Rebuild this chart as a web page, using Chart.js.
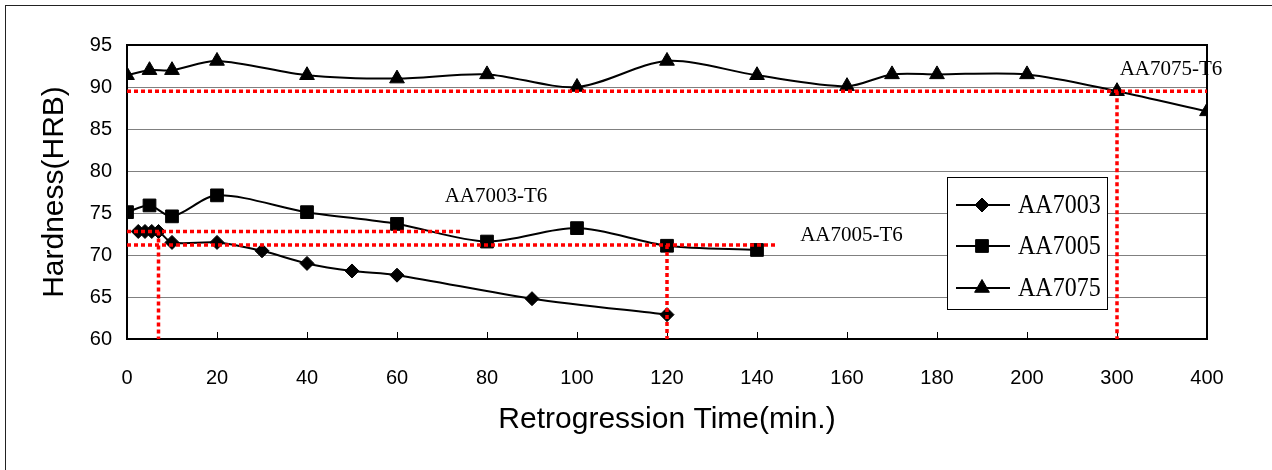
<!DOCTYPE html>
<html lang="en">
<head>
<meta charset="UTF-8">
<title>Hardness vs Retrogression Time</title>
<script src="https://cdn.jsdelivr.net/npm/chart.js"></script>
<style>
  body { margin: 0; background: #fff; }
</style>
</head>
<body>
<canvas id="hardnessChart" width="1272" height="470"></canvas>
<script>
  // category-like time axis: 0..200 every 20 min, then 300 and 400 at the same spacing
  const xTickLabels = [0, 20, 40, 60, 80, 100, 120, 140, 160, 180, 200, 300, 400];

  const aa7003Time = [2.5, 4, 5.5, 7, 10, 20, 30, 40, 50, 60, 90, 120];
  const aa7003Hrb  = [72.8, 72.8, 72.8, 72.8, 71.5, 71.5, 70.5, 69.0, 68.1, 67.6, 64.8, 62.9];

  const aa7005Time = [0, 5, 10, 20, 40, 60, 80, 100, 120, 140];
  const aa7005Hrb  = [75.1, 75.9, 74.6, 77.1, 75.1, 73.7, 71.6, 73.2, 71.1, 70.6];

  const aa7075Time = [0, 5, 10, 20, 40, 60, 80, 100, 120, 140, 160, 170, 180, 200, 300, 400];
  const aa7075Hrb  = [91.4, 92.0, 92.0, 93.1, 91.4, 91.0, 91.5, 90.0, 93.1, 91.4, 90.1, 91.5, 91.5, 91.5, 89.5, 87.1];

  // T6 reference levels (red dotted guides) and their labels
  const t6Names     = ['AA7003-T6', 'AA7005-T6', 'AA7075-T6'];
  const t6Level     = [72.8, 71.2, 89.5];
  const t6Time      = [7, 120, 300];
  const t6End       = [74, 144, 400];
  const t6LabelTime = [82, 161, 360];
  const t6LabelHrb  = [77.0, 72.3, 92.1];

  const yMin = 60, yMax = 95;

  function timePos(m) {
    return m <= 200 ? m / 20 : 10 + (m - 200) / 100;
  }

  function series(label, times, vals, style, radius) {
    return {
      label: label,
      data: times.map((t, i) => ({ x: timePos(t), y: vals[i] })),
      borderColor: '#000',
      backgroundColor: '#000',
      borderWidth: 2,
      pointStyle: style,
      pointRadius: radius,
      pointHoverRadius: radius,
      pointBorderWidth: 1,
      tension: 0.3,
      order: 1
    };
  }

  function guide(points) {
    return {
      label: '',
      guide: true,
      data: points,
      borderColor: '#ff0000',
      borderWidth: 3.5,
      borderDash: [4, 3],
      pointRadius: 0,
      tension: 0,
      order: 0
    };
  }

  const datasets = [
    series('AA7003', aa7003Time, aa7003Hrb, 'rectRot', 7),
    series('AA7005', aa7005Time, aa7005Hrb, 'rect', 9),
    series('AA7075', aa7075Time, aa7075Hrb, 'triangle', 8.5)
  ];
  t6Level.forEach((lvl, i) => {
    datasets.push(guide([{ x: 0, y: lvl }, { x: timePos(t6End[i]), y: lvl }]));
    datasets.push(guide([{ x: timePos(t6Time[i]), y: lvl }, { x: timePos(t6Time[i]), y: yMin }]));
  });

  const sans = 'Liberation Sans, Arial, sans-serif';
  const serif = 'Liberation Serif, Times New Roman, serif';

  const decor = {
    id: 'decor',
    beforeDraw(chart) {
      const ctx = chart.ctx;
      ctx.save();
      ctx.fillStyle = '#fff';
      ctx.fillRect(0, 0, chart.width, chart.height);
      ctx.restore();
    },
    beforeDatasetsDraw(chart) {
      const ctx = chart.ctx, a = chart.chartArea, xs = chart.scales.x;
      ctx.save();
      ctx.strokeStyle = '#000';
      // small inside tick marks on the time axis
      ctx.lineWidth = 1;
      for (let i = 1; i < xTickLabels.length - 1; i++) {
        const px = Math.round(xs.getPixelForValue(i)) + 0.5;
        ctx.beginPath();
        ctx.moveTo(px, a.bottom);
        ctx.lineTo(px, a.bottom - 7);
        ctx.stroke();
      }
      ctx.lineWidth = 2;
      ctx.strokeRect(a.left, a.top, a.right - a.left, a.bottom - a.top);
      ctx.restore();
    },
    afterDraw(chart) {
      const ctx = chart.ctx, xs = chart.scales.x, ys = chart.scales.y;
      ctx.save();

      // outer frame
      ctx.strokeStyle = '#222';
      ctx.lineWidth = 1;
      ctx.strokeRect(5.5, 5.5, chart.width + 20, chart.height + 20);

      // T6 labels
      ctx.fillStyle = '#000';
      ctx.font = '21px ' + serif;
      ctx.textAlign = 'center';
      ctx.textBaseline = 'middle';
      t6Names.forEach((name, i) => {
        ctx.fillText(name, xs.getPixelForValue(timePos(t6LabelTime[i])), ys.getPixelForValue(t6LabelHrb[i]));
      });

      // legend box inside the plot
      const box = { left: 947, top: 177, width: 160, height: 132 };
      const rows = [28, 69, 111];
      ctx.fillStyle = '#fff';
      ctx.fillRect(box.left, box.top, box.width, box.height);
      ctx.strokeStyle = '#000';
      ctx.lineWidth = 1;
      ctx.strokeRect(box.left + 0.5, box.top + 0.5, box.width, box.height);
      chart.data.datasets.filter(d => !d.guide).forEach((d, i) => {
        const y = box.top + rows[i];
        ctx.strokeStyle = '#000';
        ctx.lineWidth = 2;
        ctx.beginPath();
        ctx.moveTo(box.left + 9, y);
        ctx.lineTo(box.left + 63, y);
        ctx.stroke();
        ctx.fillStyle = '#000';
        ctx.lineWidth = 1;
        Chart.helpers.drawPoint(ctx, {
          pointStyle: d.pointStyle, radius: d.pointRadius, borderWidth: 1, rotation: 0
        }, box.left + 35, y);
        ctx.save();
        ctx.translate(box.left + 71, y);
        ctx.scale(1, 1.13);
        ctx.font = '24px ' + serif;
        ctx.textAlign = 'left';
        ctx.textBaseline = 'middle';
        ctx.fillText(d.label, 0, 1);
        ctx.restore();
      });
      ctx.restore();
    }
  };

  const ctx = document.getElementById('hardnessChart').getContext('2d');
  new Chart(ctx, {
    type: 'line',
    data: { datasets: datasets },
    plugins: [decor],
    options: {
      responsive: false,
      animation: false,
      layout: { padding: { left: 0, right: 65, top: 45, bottom: 0 } },
      plugins: {
        legend: { display: false },
        tooltip: { enabled: false }
      },
      scales: {
        x: {
          type: 'linear',
          min: 0,
          max: xTickLabels.length - 1,
          afterFit: s => { s.height = 131; },
          grid: { display: false },
          border: { display: false },
          ticks: {
            stepSize: 1,
            autoSkip: false,
            maxRotation: 0,
            padding: 19,
            color: '#000',
            font: { family: sans, size: 20 },
            callback: v => xTickLabels[v]
          },
          title: {
            display: true,
            text: 'Retrogression Time(min.)',
            color: '#000',
            font: { family: sans, size: 30 },
            padding: { top: 0, bottom: 32 }
          }
        },
        y: {
          min: yMin,
          max: yMax,
          afterFit: s => { s.width = 127; },
          grid: { color: '#808080', lineWidth: 1, drawTicks: false },
          border: { display: false },
          ticks: {
            stepSize: 5,
            padding: 15,
            color: '#000',
            font: { family: sans, size: 20 }
          },
          title: {
            display: true,
            text: 'Hardness(HRB)',
            color: '#000',
            font: { family: sans, size: 30 },
            padding: { top: 37, bottom: 0 }
          }
        }
      }
    }
  });
</script>
</body>
</html>
